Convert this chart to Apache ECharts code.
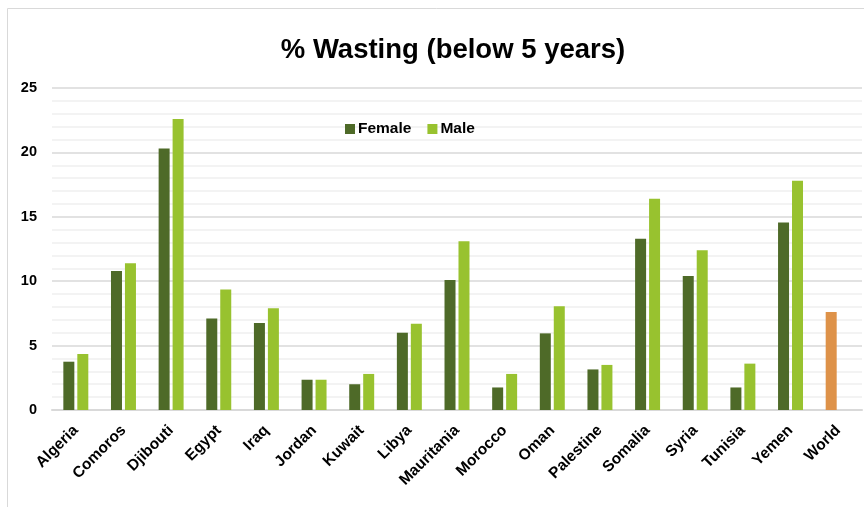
<!DOCTYPE html>
<html>
<head>
<meta charset="utf-8">
<script src="https://cdn.jsdelivr.net/npm/echarts@6/dist/echarts.min.js"></script>
<style>html,body{margin:0;padding:0;background:#fff}#c{width:864px;height:507px}</style>
</head>
<body>
<div id="c"></div>
<script>
const categories = ["Algeria","Comoros","Djibouti","Egypt","Iraq","Jordan","Kuwait","Libya","Mauritania","Morocco","Oman","Palestine","Somalia","Syria","Tunisia","Yemen","World"];
const female = [3.75,10.8,20.3,7.1,6.75,2.35,2.0,6.0,10.1,1.75,5.95,3.15,13.3,10.4,1.75,14.55,7.6];
const male = [4.35,11.4,22.6,9.35,7.9,2.35,2.8,6.7,13.1,2.8,8.05,3.5,16.4,12.4,3.6,17.8,null];
const yTicks = [0,5,10,15,20,25];

const darkGreen = '#4E6A28', lightGreen = '#98C22F', orange = '#DE9249';
const chart = echarts.init(document.getElementById('c'));
chart.setOption({
  animation: false,
  graphic: [{type:'rect', shape:{x:7.5,y:8.5,width:900,height:600}, style:{fill:'none',stroke:'#d9d9d9',lineWidth:1}, silent:true}],
  title: {text:'% Wasting (below 5 years)', left:448, top:31, textAlign:'center',
    textStyle:{fontFamily:'Liberation Sans', fontWeight:'bold', fontSize:27.5, color:'#000'}},
  legend: {left:340, top:116, itemWidth:10, itemHeight:10, itemGap:16, icon:'rect',
    textStyle:{fontFamily:'Liberation Sans', fontWeight:'bold', fontSize:15.5, color:'#000', padding:[0,0,0,-2]},
    data:[{name:'Female', itemStyle:{color:darkGreen}},{name:'Male', itemStyle:{color:lightGreen}}]},
  grid: {left:52, right:2, top:88, bottom:97, containLabel:false},
  xAxis: {type:'category', data:categories,
    axisLine:{lineStyle:{color:'#d9d9d9', width:2}}, axisTick:{show:false},
    axisLabel:{interval:0, rotate:45, margin:18, fontFamily:'Liberation Sans', fontWeight:'bold', fontSize:15.5, color:'#000'}},
  yAxis: {type:'value', min:yTicks[0], max:yTicks[yTicks.length-1], interval:5,
    axisLine:{show:false}, axisTick:{show:false},
    axisLabel:{margin:15, fontFamily:'Liberation Sans', fontWeight:'bold', fontSize:14.5, color:'#000'},
    splitLine:{lineStyle:{color:'#d9d9d9', width:1.5}},
    minorTick:{show:false, splitNumber:5},
    minorSplitLine:{show:true, lineStyle:{color:'#efefef', width:1.5}}},
  series: [
    {name:'Female', type:'bar', barWidth:11, barGap:'27%',
      itemStyle:{color:darkGreen},
      data: female.map((v,i)=> categories[i]==='World' ? {value:v, itemStyle:{color:orange}} : v)},
    {name:'Male', type:'bar', barWidth:11, barGap:'27%',
      itemStyle:{color:lightGreen}, data: male}
  ]
});
</script>
</body>
</html>
